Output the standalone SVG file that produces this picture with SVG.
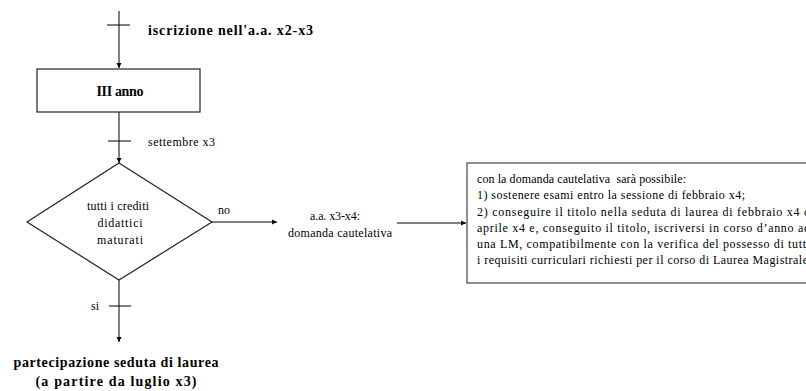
<svg xmlns="http://www.w3.org/2000/svg" width="806" height="391" viewBox="0 0 806 391">
  <defs>
    <marker id="arrow" markerWidth="6" markerHeight="6" refX="5" refY="3" orient="auto" markerUnits="userSpaceOnUse">
      <path d="M0,0.5 L5,3 L0,5.5 Z" fill="#000"/>
    </marker>
  </defs>
  <style>
    .ln { stroke: #000; stroke-width: 1; fill: none; }
    .shape { stroke: #222; stroke-width: 1.2; fill: #fff; }
    text { font-family: "Liberation Serif", "DejaVu Serif", serif; fill: #000; }
    .bold { font-weight: bold; font-size: 14px; }
    .small { font-size: 12px; }
    .mid { text-anchor: middle; }
  </style>
  <rect width="806" height="391" fill="#fff"/>

  <!-- connectors, their tick marks and labels -->
  <g id="connectors">
    <line class="ln" x1="119" y1="11" x2="119" y2="68" marker-end="url(#arrow)"/>
    <line class="ln" x1="107" y1="25" x2="130" y2="25"/>
    <line class="ln" x1="119" y1="112" x2="119" y2="163" marker-end="url(#arrow)"/>
    <line class="ln" x1="108" y1="141" x2="131" y2="141"/>
    <line class="ln" x1="212" y1="222" x2="277" y2="222" marker-end="url(#arrow)"/>
    <line class="ln" x1="397" y1="223" x2="466" y2="223" marker-end="url(#arrow)"/>
    <line class="ln" x1="119" y1="280" x2="119" y2="342" marker-end="url(#arrow)"/>
    <line class="ln" x1="109" y1="306" x2="131" y2="306"/>
    <text class="bold" x="148" y="35" textLength="165" lengthAdjust="spacing">iscrizione nell'a.a. x2-x3</text>
    <text class="small" x="148" y="146" textLength="67" lengthAdjust="spacing">settembre x3</text>
    <text class="small" x="218" y="214">no</text>
    <text class="small" x="91" y="310">si</text>
  </g>

  <g id="node-anno">
    <rect class="shape" x="37" y="69" width="163" height="43"/>
    <text class="bold mid" x="120" y="96" font-size="12.5" textLength="47" lengthAdjust="spacing">III anno</text>
  </g>

  <g id="node-crediti">
    <polygon class="shape" points="119,163 212,222 119,280 27,222"/>
    <text class="small mid" x="118" y="210" textLength="62" lengthAdjust="spacing">tutti i crediti</text>
    <text class="small mid" x="120" y="227" textLength="45" lengthAdjust="spacing">didattici</text>
    <text class="small mid" x="120" y="244" textLength="46" lengthAdjust="spacing">maturati</text>
  </g>

  <g id="node-cautelativa">
    <text class="small mid" x="335" y="220" textLength="50" lengthAdjust="spacing">a.a. x3-x4:</text>
    <text class="small mid" x="340" y="237" textLength="104" lengthAdjust="spacing">domanda cautelativa</text>
  </g>

  <g id="node-possibilita">
    <rect class="shape" x="467" y="163" width="360" height="120" style="stroke:#444"/>
    <text class="small" x="477" y="183" xml:space="preserve" textLength="209" lengthAdjust="spacing">con la domanda cautelativa  sarà possibile:</text>
    <text class="small" x="477" y="199" textLength="268" lengthAdjust="spacing">1) sostenere esami entro la sessione di febbraio x4;</text>
    <text class="small" x="477" y="216" textLength="333" lengthAdjust="spacing">2) conseguire il titolo nella seduta di laurea di febbraio x4 o</text>
    <text class="small" x="477" y="232" textLength="333" lengthAdjust="spacing">aprile x4 e, conseguito il titolo, iscriversi in corso d’anno ad</text>
    <text class="small" x="477" y="248" textLength="333" lengthAdjust="spacing">una LM, compatibilmente con la verifica del possesso di tutti</text>
    <text class="small" x="477" y="264" textLength="331" lengthAdjust="spacing">i requisiti curriculari richiesti per il corso di Laurea Magistrale</text>
  </g>

  <g id="node-laurea">
    <text class="bold mid" x="116" y="367" font-size="15" textLength="205" lengthAdjust="spacing">partecipazione seduta di laurea</text>
    <text class="bold mid" x="116" y="386" font-size="15" textLength="161" lengthAdjust="spacing">(a partire da luglio x3)</text>
  </g>
</svg>
